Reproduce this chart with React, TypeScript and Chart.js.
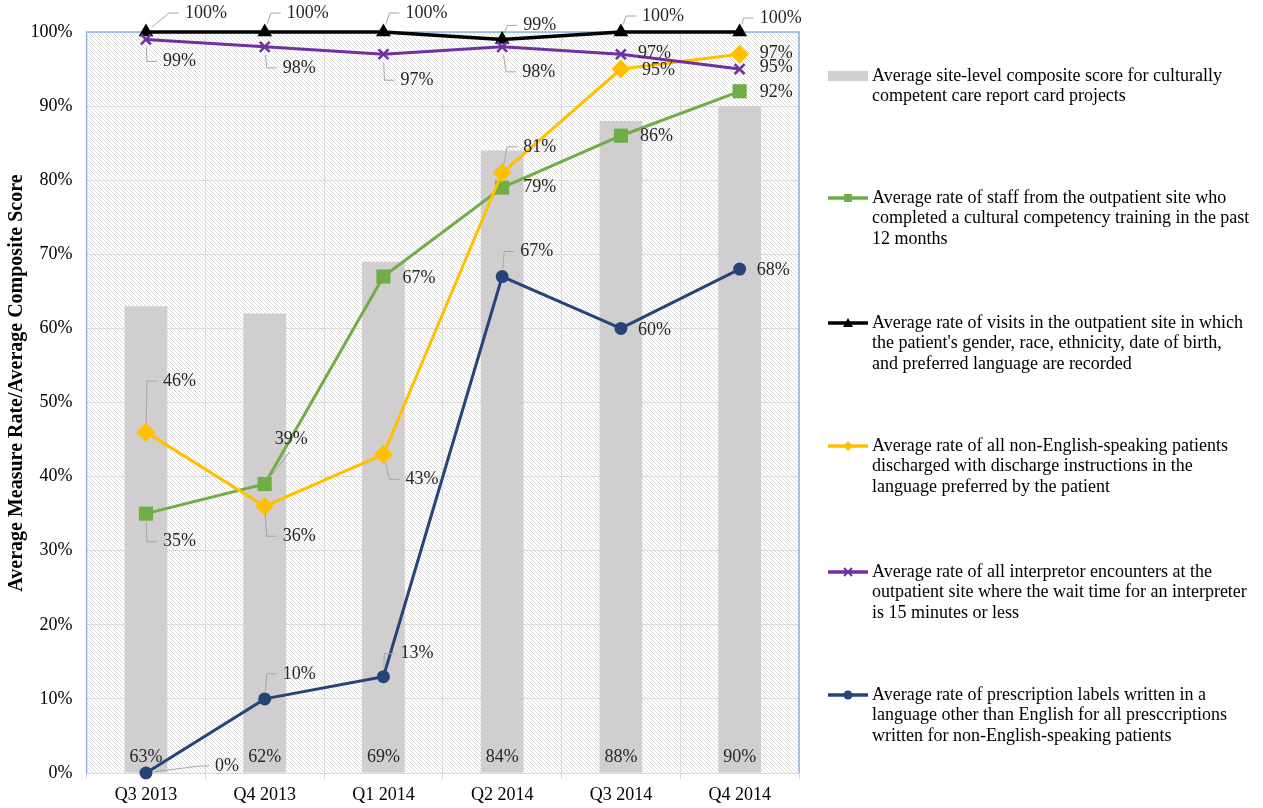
import React, { useEffect, useRef } from 'react';
import { Chart, registerables } from 'chart.js';

Chart.register(...registerables);

// ---------- data ----------
const categories = ['Q3 2013', 'Q4 2013', 'Q1 2014', 'Q2 2014', 'Q3 2014', 'Q4 2014'];
const compositeScore = [63, 62, 69, 84, 88, 90];
const staffTraining = [35, 39, 67, 79, 86, 92];
const demographicsRecorded = [100, 100, 100, 99, 100, 100];
const dischargeInstructions = [46, 36, 43, 81, 95, 97];
const interpreterWait = [99, 98, 97, 98, 97, 95];
const prescriptionLabels = [0, 10, 13, 67, 60, 68];

const yAxisTitle = 'Average Measure Rate/Average Composite Score';

const legendCompositeLines = ['Average site-level composite score for culturally', 'competent care report card projects'];
const legendStaffLines = ['Average rate of staff from the outpatient site who', 'completed a cultural competency training in the past', '12 months'];
const legendDemoLines = ['Average rate of visits in the outpatient site in which', "the patient's gender, race, ethnicity, date of birth,", 'and preferred language are recorded'];
const legendDischargeLines = ['Average rate of all non-English-speaking patients', 'discharged with discharge instructions in the', 'language preferred by the patient'];
const legendInterpLines = ['Average rate of all interpretor encounters at the', 'outpatient site where the wait time for an interpreter', 'is 15 minutes or less'];
const legendRxLines = ['Average rate of prescription labels written in a', 'language other than English for all presccriptions', 'written for non-English-speaking patients'];

// ---------- styles ----------
const FONT = '"Liberation Serif", "Times New Roman", serif';
const GREEN = '#70ad47';
const BLACK = '#000000';
const YELLOW = '#ffc000';
const PURPLE = '#7030a0';
const NAVY = '#264478';
const BAR = '#d0cece';
const GRID = '#d9d9d9';
const FRAME = '#8db6e2';
const LABEL_COLOR = '#262626';

// label offsets relative to the point: [dx, dy, leaderType]
const offsStaff = [[17, 28, 1], [10, -45, 2], [19, 2, 0], [21, 0, 0], [19, 1, 0], [20, 1, 0]];
const offsDemo = [[39, -19, 1], [22, -19, 1], [22, -19, 1], [21, -14, 1], [21, -16, 1], [20, -14, 1]];
const offsDischarge = [[17, -51, 1], [18, 30, 1], [22, 25, 1], [21, -26, 1], [21, 1, 0], [20, -1, 0]];
const offsInterp = [[17, 22, 1], [18, 21, 1], [17, 26, 1], [20, 25, 1], [17, -1, 0], [20, -2, 0]];
const offsRx = [[69, -7, 1], [18, -25, 1], [17, -23, 1], [18, -25, 1], [17, 2, 0], [17, 1, 0]];

function makePattern(): CanvasPattern | string {
  const pc = document.createElement('canvas');
  pc.width = 4;
  pc.height = 4;
  const p = pc.getContext('2d');
  if (!p) return '#ffffff';
  p.fillStyle = '#ffffff';
  p.fillRect(0, 0, 4, 4);
  p.strokeStyle = '#dadada';
  p.lineWidth = 1;
  p.beginPath();
  p.moveTo(-1, -1);
  p.lineTo(5, 5);
  p.moveTo(-1, 3);
  p.lineTo(1, 5);
  p.moveTo(3, -1);
  p.lineTo(5, 1);
  p.stroke();
  const pat = p.createPattern(pc, 'repeat');
  return pat || '#ffffff';
}

function drawMarker(ctx: CanvasRenderingContext2D, style: string, x: number, y: number, color: string) {
  ctx.save();
  ctx.fillStyle = color;
  ctx.strokeStyle = color;
  ctx.lineWidth = 2;
  ctx.beginPath();
  if (style === 'rect') {
    ctx.rect(x - 4, y - 4, 8, 8);
    ctx.fill();
  } else if (style === 'triangle') {
    ctx.moveTo(x, y - 5);
    ctx.lineTo(x + 5, y + 4);
    ctx.lineTo(x - 5, y + 4);
    ctx.closePath();
    ctx.fill();
  } else if (style === 'rectRot') {
    ctx.moveTo(x, y - 5);
    ctx.lineTo(x + 5, y);
    ctx.lineTo(x, y + 5);
    ctx.lineTo(x - 5, y);
    ctx.closePath();
    ctx.fill();
  } else if (style === 'crossRot') {
    ctx.moveTo(x - 4, y - 4);
    ctx.lineTo(x + 4, y + 4);
    ctx.moveTo(x + 4, y - 4);
    ctx.lineTo(x - 4, y + 4);
    ctx.stroke();
  } else if (style === 'circle') {
    ctx.arc(x, y, 4.5, 0, Math.PI * 2);
    ctx.fill();
  }
  ctx.restore();
}

export default function App() {
  const ref = useRef<HTMLCanvasElement | null>(null);

  useEffect(() => {
    const canvas = ref.current;
    if (!canvas) return;

    const pattern = makePattern();

    const lineSeries = [
      { data: staffTraining, color: GREEN, offs: offsStaff },
      { data: demographicsRecorded, color: BLACK, offs: offsDemo },
      { data: dischargeInstructions, color: YELLOW, offs: offsDischarge },
      { data: interpreterWait, color: PURPLE, offs: offsInterp },
      { data: prescriptionLabels, color: NAVY, offs: offsRx },
    ];

    const legendItems = [
      { lines: legendCompositeLines, color: BAR, style: 'bar', y: 76 },
      { lines: legendStaffLines, color: GREEN, style: 'rect', y: 198 },
      { lines: legendDemoLines, color: BLACK, style: 'triangle', y: 323 },
      { lines: legendDischargeLines, color: YELLOW, style: 'rectRot', y: 446 },
      { lines: legendInterpLines, color: PURPLE, style: 'crossRot', y: 572 },
      { lines: legendRxLines, color: NAVY, style: 'circle', y: 695 },
    ];

    const backgroundPlugin = {
      id: 'hatchBackground',
      beforeDraw(chart: any) {
        const { ctx, chartArea } = chart;
        ctx.save();
        ctx.fillStyle = '#ffffff';
        ctx.fillRect(0, 0, chart.width, chart.height);
        ctx.fillStyle = pattern;
        ctx.fillRect(chartArea.left, chartArea.top, chartArea.right - chartArea.left, chartArea.bottom - chartArea.top);
        ctx.restore();
      },
      beforeDatasetsDraw(chart: any) {
        const { ctx, chartArea } = chart;
        ctx.save();
        ctx.strokeStyle = FRAME;
        ctx.lineWidth = 1.5;
        ctx.beginPath();
        ctx.moveTo(chartArea.left, chartArea.bottom);
        ctx.lineTo(chartArea.left, chartArea.top);
        ctx.lineTo(chartArea.right, chartArea.top);
        ctx.lineTo(chartArea.right, chartArea.bottom);
        ctx.stroke();
        ctx.restore();
      },
    };

    const labelsPlugin = {
      id: 'pointLabels',
      afterDatasetsDraw(chart: any) {
        const { ctx } = chart;
        ctx.save();
        ctx.font = `18px ${FONT}`;
        ctx.fillStyle = LABEL_COLOR;
        ctx.textBaseline = 'middle';

        // bar labels
        const barMeta = chart.getDatasetMeta(0);
        const zeroY = chart.scales.y.getPixelForValue(0);
        ctx.textAlign = 'center';
        barMeta.data.forEach((el: any, i: number) => {
          ctx.fillText(`${compositeScore[i]}%`, el.x, zeroY - 16);
        });

        ctx.textAlign = 'left';
        lineSeries.forEach((s, si) => {
          const meta = chart.getDatasetMeta(si + 1);
          meta.data.forEach((el: any, i: number) => {
            const [dx, dy, lead] = s.offs[i];
            const lx = el.x + dx;
            const ly = el.y + dy;
            if (lead) {
              ctx.save();
              ctx.strokeStyle = '#a6a6a6';
              ctx.lineWidth = 1;
              ctx.beginPath();
              let ex: number, ey: number;
              if (lead === 2) {
                ex = lx + 15;
                ey = ly + 13;
              } else {
                ex = lx - 16;
                ey = ly;
              }
              const vx = ex - el.x;
              const vy = ey - el.y;
              const len = Math.sqrt(vx * vx + vy * vy) || 1;
              ctx.moveTo(el.x + (vx / len) * 8, el.y + (vy / len) * 8);
              ctx.lineTo(ex, ey);
              if (lead === 1) ctx.lineTo(lx - 6, ly);
              ctx.stroke();
              ctx.restore();
            }
            ctx.fillText(`${s.data[i]}%`, lx, ly);
          });
        });
        ctx.restore();
      },
      afterDraw(chart: any) {
        const { ctx } = chart;
        ctx.save();
        // y-axis title
        ctx.save();
        ctx.translate(17, 383);
        ctx.rotate(-Math.PI / 2);
        ctx.font = `bold 20px ${FONT}`;
        ctx.fillStyle = '#000000';
        ctx.textAlign = 'center';
        ctx.textBaseline = 'middle';
        ctx.fillText(yAxisTitle, 0, 0);
        ctx.restore();

        ctx.font = `18px ${FONT}`;
        ctx.fillStyle = '#000000';
        ctx.textBaseline = 'middle';
        ctx.textAlign = 'left';
        legendItems.forEach((it) => {
          if (it.style === 'bar') {
            ctx.fillStyle = it.color;
            ctx.fillRect(828, it.y - 5, 40, 10);
          } else {
            ctx.strokeStyle = it.color;
            ctx.lineWidth = 3.5;
            ctx.beginPath();
            ctx.moveTo(828, it.y);
            ctx.lineTo(868, it.y);
            ctx.stroke();
            drawMarker(ctx, it.style, 848, it.y, it.color);
          }
          ctx.fillStyle = '#000000';
          it.lines.forEach((line, li) => {
            ctx.fillText(line, 872, it.y + li * 20.5);
          });
        });
        ctx.restore();
      },
    };

    const lineCommon = {
      type: 'line' as const,
      fill: false,
      tension: 0,
      borderWidth: 3,
      clip: false as const,
    };

    const chart = new Chart(canvas, {
      type: 'bar',
      data: {
        labels: categories,
        datasets: [
          {
            type: 'bar',
            label: legendCompositeLines.join(' '),
            data: compositeScore,
            backgroundColor: BAR,
            barPercentage: 0.36,
            categoryPercentage: 1,
            order: 10,
          },
          {
            ...lineCommon,
            label: legendStaffLines.join(' '),
            data: staffTraining,
            borderColor: GREEN,
            backgroundColor: GREEN,
            pointStyle: 'rect',
            pointRadius: 10,
            pointBorderWidth: 0,
            order: 6,
          },
          {
            ...lineCommon,
            label: legendDemoLines.join(' '),
            data: demographicsRecorded,
            borderColor: BLACK,
            backgroundColor: BLACK,
            borderWidth: 3.5,
            pointStyle: 'triangle',
            pointRadius: 8.5,
            pointBorderWidth: 0,
            order: 5,
          },
          {
            ...lineCommon,
            label: legendDischargeLines.join(' '),
            data: dischargeInstructions,
            borderColor: YELLOW,
            backgroundColor: YELLOW,
            pointStyle: 'rectRot',
            pointRadius: 9.5,
            pointBorderWidth: 0,
            order: 4,
          },
          {
            ...lineCommon,
            label: legendInterpLines.join(' '),
            data: interpreterWait,
            borderColor: PURPLE,
            backgroundColor: PURPLE,
            pointStyle: 'crossRot',
            pointRadius: 7,
            pointBorderWidth: 2.5,
            order: 3,
          },
          {
            ...lineCommon,
            label: legendRxLines.join(' '),
            data: prescriptionLabels,
            borderColor: NAVY,
            backgroundColor: NAVY,
            pointStyle: 'circle',
            pointRadius: 6.5,
            pointBorderWidth: 0,
            order: 2,
          },
        ] as any,
      },
      options: {
        responsive: false,
        animation: false,
        events: [],
        layout: { padding: { top: 32, right: 464, left: 0, bottom: 0 } },
        plugins: {
          legend: { display: false },
          tooltip: { enabled: false },
        },
        scales: {
          x: {
            type: 'category',
            offset: true,
            grid: {
              offset: true,
              color: GRID,
              lineWidth: 1,
              drawTicks: true,
              tickLength: 6,
            },
            border: { display: true, color: GRID, width: 1 },
            ticks: {
              color: '#000000',
              font: { family: FONT, size: 18 },
              padding: 5,
              maxRotation: 0,
            },
            afterFit(scale: any) {
              scale.height = 35;
            },
          },
          y: {
            min: 0,
            max: 100,
            grid: { color: GRID, lineWidth: 1, drawTicks: false },
            border: { display: false },
            ticks: {
              stepSize: 10,
              color: '#000000',
              padding: 14,
              font: { family: FONT, size: 18 },
              callback: (v: any) => `${v}%`,
            },
            title: { display: false },
            afterFit(scale: any) {
              scale.width = 86.6;
            },
          },
        },
      } as any,
      plugins: [backgroundPlugin, labelsPlugin],
    });

    return () => {
      chart.destroy();
    };
  }, []);

  return (
    <div style={{ position: 'fixed', left: 0, top: 0, width: 1263, height: 808, background: '#ffffff' }}>
      <canvas ref={ref} width={1263} height={808} style={{ display: 'block' }} />
    </div>
  );
}
